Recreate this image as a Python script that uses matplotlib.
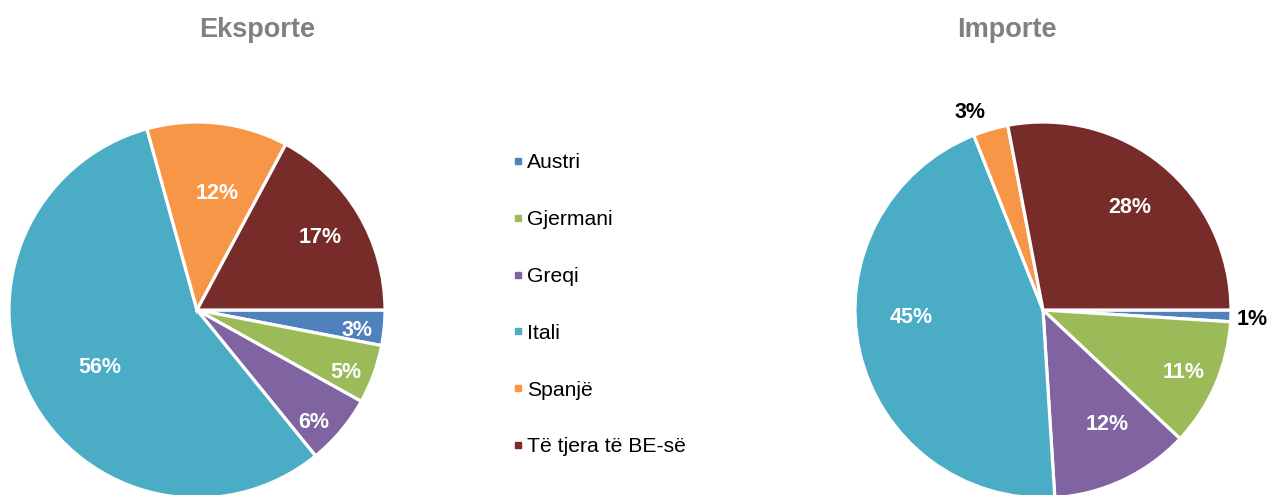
import matplotlib
matplotlib.use("Agg")
import matplotlib.pyplot as plt
from matplotlib.lines import Line2D
import numpy as np

plt.rcParams['font.family'] = ['Liberation Sans', 'DejaVu Sans']

categories = ["Austri", "Gjermani", "Greqi", "Itali", "Spanjë", "Të tjera të BE-së"]
eksporte = [3, 5, 6, 56, 12, 17]
importe = [1, 11, 12, 45, 3, 28]
colors = ["#4F81BD", "#9BBB59", "#8064A2", "#4BACC6", "#F79646", "#772C2A"]

# label placement: radial distance (fraction of radius) and angular nudge (deg)
eks_dist = [0.86, 0.86, 0.86, 0.60, 0.63, 0.76]
eks_shift = [-2.0, -2.6, -4.0, 3.1, -3.3, -0.2]
imp_dist = [1.113, 0.82, 0.70, 0.70, 1.12, 0.717]
imp_shift = [-0.9, -0.7, 4.1, -9.5, 4.1, -0.6]
imp_out = [True, False, False, False, True, False]

W, H = 1270, 495
fig = plt.figure(figsize=(W / 100, H / 100), dpi=100)

R = 188


def make_pie(cx, cy, values, dists, shifts, outside, title, tx):
    ax = fig.add_axes([(cx - R) / W, (H - cy - R) / H, 2 * R / W, 2 * R / H])
    wedges, _ = ax.pie(values, colors=colors, startangle=0, counterclock=False,
                       radius=1, wedgeprops=dict(edgecolor="white", linewidth=2.3))
    for w, v, d, s, o in zip(wedges, values, dists, shifts, outside):
        ang = np.deg2rad((w.theta1 + w.theta2) / 2 + s)
        ax.text(d * np.cos(ang), d * np.sin(ang), f"{v}%", ha="center", va="center",
                fontsize=15.5, fontweight="bold", color="black" if o else "white")
    ax.set_xlim(-1, 1)
    ax.set_ylim(-1, 1)
    ax.set_aspect("equal")
    ax.axis("off")
    for w in wedges:
        w.set_clip_on(False)
    fig.text(tx / W, 1 - 30 / H, title, ha="center", va="center", fontsize=19.5,
             fontweight="bold", color="#808080")


make_pie(197, 310, eksporte, eks_dist, eks_shift, [False] * 6, "Eksporte", 257)
make_pie(1043, 310, importe, imp_dist, imp_shift, imp_out, "Importe", 1007)

handles = [Line2D([], [], marker="s", linestyle="none", markersize=5,
                  markerfacecolor=c, markeredgecolor=c) for c in colors]
leg = fig.legend(handles, categories, loc="upper left",
                 bbox_to_anchor=(503 / W, 1 - 145 / H), frameon=False,
                 fontsize=15.2, handlelength=0.6, handletextpad=0.15,
                 labelspacing=1.79, borderaxespad=0)
for t in leg.get_texts():
    t.set_color("black")

fig.savefig("out.png", dpi=100)
